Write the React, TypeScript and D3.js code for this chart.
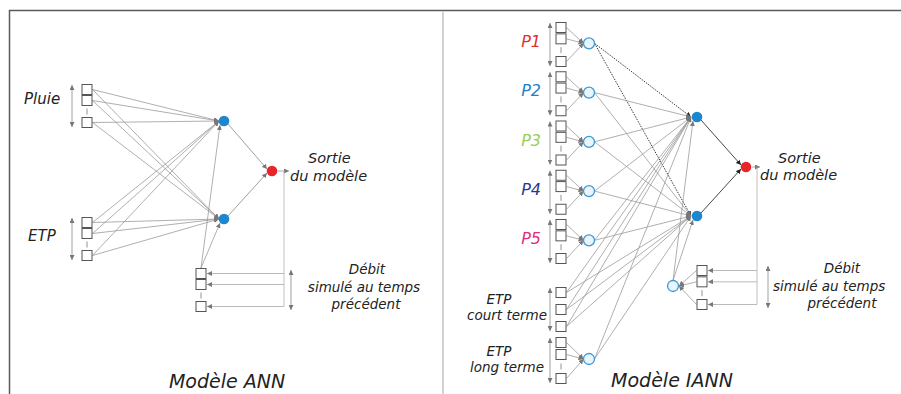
import * as d3 from "d3"
import React, { useRef, useEffect } from "react"

// inputs and labels of the two network diagrams
const annInputs = ["Pluie", "ETP"]
const precipGroups = ["P1", "P2", "P3", "P4", "P5"]
const precipColors = ["#e2312d", "#1f7fc5", "#9ccc55", "#2d3591", "#df2f7e"]
const etpShort = ["ETP", "court terme"]
const etpLong = ["ETP", "long terme"]
const hiddenNodes = ["h1", "h2"]
const outputLabel = ["Sortie", "du modèle"]
const debitLabel = ["Débit", "simulé au temps", "précédent"]
const titles = ["Modèle ANN", "Modèle IANN"]
const lagSlots = [0, 1, 3] // t-1, t-2, ..., t-n
const etpShortSlots = [0, 1, 2]

const FONT = "'DejaVu Sans', sans-serif"
const GRAY = "#9a9a9a"
const BOX = 10

function App() {
  const ref = useRef<SVGSVGElement>(null)

  useEffect(() => {
    const svg = d3.select(ref.current)
    svg.selectAll("*").remove()

    const defs = svg.append("defs")
    const marker = (id: string, color: string) =>
      defs
        .append("marker")
        .attr("id", id)
        .attr("viewBox", "0 0 6 6")
        .attr("refX", 6)
        .attr("refY", 3)
        .attr("markerWidth", 5)
        .attr("markerHeight", 5)
        .attr("markerUnits", "userSpaceOnUse")
        .attr("orient", "auto-start-reverse")
        .append("path")
        .attr("d", "M0,0L6,3L0,6Z")
        .attr("fill", color)
    marker("ag", "#777")
    marker("ad", "#222")

    // frame
    svg
      .append("path")
      .attr("d", "M9.5,394V10.5H901")
      .attr("fill", "none")
      .attr("stroke", "#5a5a5a")
      .attr("stroke-width", 1.5)
    svg
      .append("line")
      .attr("x1", 443).attr("x2", 443).attr("y1", 11).attr("y2", 394)
      .attr("stroke", "#d2d2d2").attr("stroke-width", 2)

    const links = svg.append("g")
    const nodes = svg.append("g")
    const labels = svg.append("g").style("font-family", FONT).style("font-style", "italic").attr("fill", "#222")

    const link = (x1, y1, x2, y2, o: any = {}) =>
      links
        .append("line")
        .attr("x1", x1).attr("y1", y1).attr("x2", x2).attr("y2", y2)
        .attr("stroke", o.color || GRAY)
        .attr("stroke-width", o.w || 0.8)
        .attr("stroke-dasharray", o.dash || null)
        .attr("marker-end", o.noArrow ? null : `url(#${o.dark ? "ad" : "ag"})`)
        .attr("marker-start", o.both ? `url(#${o.dark ? "ad" : "ag"})` : null)

    const box = (x, y) =>
      nodes.append("rect").attr("x", x + 0.5).attr("y", y + 0.5).attr("width", BOX).attr("height", BOX)
        .attr("fill", "white").attr("stroke", "#555").attr("stroke-width", 1)

    const openNeuron = (x, y) =>
      nodes.append("circle").attr("cx", x).attr("cy", y).attr("r", 5.5)
        .attr("fill", "#eaf5fb").attr("stroke", "#3d9ad6").attr("stroke-width", 1.3)

    const fullNeuron = (x, y, c) =>
      nodes.append("circle").attr("cx", x).attr("cy", y).attr("r", 5.3).attr("fill", c)

    const text = (s, x, y, size, anchor = "start", color = null) =>
      labels.append("text").attr("x", x).attr("y", y).attr("font-size", size)
        .attr("text-anchor", anchor).attr("fill", color).text(s)

    // draws a stack of lagged input boxes, returns box centre ys
    const stack = (x, top, slots, slotScale, dash = true) => {
      const ys = slots.map((s) => top + slotScale(s))
      ys.forEach((y) => box(x, y))
      if (dash) {
        const d = (ys[1] + BOX + ys[2]) / 2 + 0.5
        nodes.append("line").attr("x1", x + 5.5).attr("x2", x + 5.5)
          .attr("y1", d - 3).attr("y2", d + 3).attr("stroke", "#777").attr("stroke-width", 0.8)
      }
      return ys.map((y) => y + 5.5)
    }

    // ---------------- ANN ----------------
    const annTop = d3.scaleLinear().domain([0, 1]).range([84, 217])
    const annSlot = d3.scaleLinear().domain([0, 3]).range([0, 33])
    const annHid = d3.scaleLinear().domain([0, 1]).range([121, 219])
    const annBoxX = 81.5, annHx = 224, annOut = [272, 171]

    annInputs.forEach((name, i) => {
      const top = annTop(i)
      const ys = stack(annBoxX, top, lagSlots, annSlot)
      ys.forEach((y) => hiddenNodes.forEach((h, j) => link(annBoxX + BOX + 1, y, annHx - 5, annHid(j))))
      link(72, top + 1, 72, top + 43, { both: true, color: "#888" })
      text(name, name === "ETP" ? 28 : 24, top + (name === "ETP" ? 24 : 20), 15)
    })

    const annDebX = 195.5, annDebTop = 268
    const annDeb = stack(annDebX, annDebTop, lagSlots, annSlot)
    hiddenNodes.forEach((h, j) => {
      link(annDebX + 5.5, annDebTop, annHx - 4, annHid(j) + 4)
      link(annHx + 4, annHid(j) + (j ? -3 : 3), annOut[0] - 5, annOut[1] + (j ? 2 : -2), { color: "#888" })
      fullNeuron(annHx, annHid(j), "#1c87d0")
    })
    fullNeuron(annOut[0], annOut[1], "#e8262a")
    link(annOut[0] + 6, annOut[1], annOut[0] + 17, annOut[1], { color: "#999" })
    link(284, annOut[1], 284, annDeb[2], { noArrow: true, color: "#b0b0b0" })
    annDeb.forEach((y) => link(284, y, annDebX + BOX + 1.5, y, { color: "#aaa" }))
    link(291, annDebTop + 2, 291, annDebTop + 42, { both: true, color: "#888" })

    text(outputLabel[0], 308, 163, 14.5)
    text(outputLabel[1], 290, 181, 14.5)
    text(debitLabel[0], 367, 274, 13.5, "middle")
    text(debitLabel[1], 364, 292, 13.5, "middle")
    text(debitLabel[2], 366, 309, 13.5, "middle")
    text(titles[0], 227, 388, 19, "middle")

    // ---------------- IANN ----------------
    const pTop = d3.scaleLinear().domain([0, 4]).range([22, 219])
    const pSlot = d3.scaleLinear().domain([0, 3]).range([0, 34])
    const hid = d3.scaleLinear().domain([0, 1]).range([117, 216])
    const bx = 555.5, cx = 589, hx = 697, out = [746, 167]
    const toHidden = (x, y, o: any = {}) =>
      hiddenNodes.forEach((h, j) => link(x, y, hx - 6, hid(j) + (o.dy || 0), o))

    precipGroups.forEach((name, i) => {
      const top = pTop(i)
      const ys = stack(bx, top, lagSlots, pSlot)
      const cy = top + pSlot(1) + BOX
      ys.forEach((y) => link(bx + BOX + 1, y, cx - 5.5, cy))
      link(550, top + 1, 550, top + 44, { both: true, color: "#888" })
      toHidden(cx + 5.5, cy, i === 0 ? { color: "#222", dash: "1.5,1.2", dark: true, w: 0.9 } : {})
      openNeuron(cx, cy)
      text(name, 541, top + 25, 16, "end", precipColors[i])
    })

    const esTop = 287
    const esSlot = d3.scaleLinear().domain([0, 2]).range([0, 34])
    stack(bx, esTop, etpShortSlots, esSlot, false).forEach((y) => toHidden(bx + BOX + 1, y))
    link(550, esTop + 1, 550, esTop + 44, { both: true, color: "#888" })
    text(etpShort[0], 499, 304, 13.5, "middle")
    text(etpShort[1], 547, 320, 13.5, "end")

    const elTop = 337
    const elSlot = d3.scaleLinear().domain([0, 3]).range([0, 36])
    const elCy = elTop + elSlot(1) + BOX
    stack(bx, elTop, lagSlots, elSlot).forEach((y) => link(bx + BOX + 1, y, cx - 5.5, elCy))
    link(550, elTop + 1, 550, elTop + 46, { both: true, color: "#888" })
    toHidden(cx + 5.5, elCy)
    openNeuron(cx, elCy)
    text(etpLong[0], 499, 356, 13.5, "middle")
    text(etpLong[1], 544, 372, 13.5, "end")

    const debX = 696.5, debTop = 265, dcx = 673, dcy = 286
    const deb = stack(debX, debTop, lagSlots, pSlot)
    deb.forEach((y) => link(debX, y, dcx + 6, dcy))
    hiddenNodes.forEach((h, j) => link(dcx, dcy - 5.5, hx - 4, hid(j) + 4))
    openNeuron(dcx, dcy)

    hiddenNodes.forEach((h, j) => {
      link(hx + 4, hid(j) + (j ? -3 : 3), out[0] - 5, out[1] + (j ? 2 : -2), { color: "#333", dark: true, w: 0.9 })
      fullNeuron(hx, hid(j), "#1c87d0")
    })
    fullNeuron(out[0], out[1], "#e8262a")
    link(out[0] + 6, out[1], out[0] + 14, out[1], { color: "#999" })
    link(757, out[1], 757, deb[2], { noArrow: true, color: "#b0b0b0" })
    deb.forEach((y) => link(757, y, debX + BOX + 1.5, y, { color: "#aaa" }))
    link(768, debTop + 1, 768, debTop + 43, { both: true, color: "#888" })

    text(outputLabel[0], 778, 163, 14.5)
    text(outputLabel[1], 760, 180, 14.5)
    text(debitLabel[0], 842, 273, 13.5, "middle")
    text(debitLabel[1], 773, 291, 13.5)
    text(debitLabel[2], 842, 308, 13.5, "middle")
    text(titles[1], 672, 387, 19, "middle")
  }, [])

  return (
    <svg
      ref={ref}
      width={901}
      height={394}
      style={{ position: "absolute", left: 0, top: 0, background: "white" }}
    />
  )
}

export default App
